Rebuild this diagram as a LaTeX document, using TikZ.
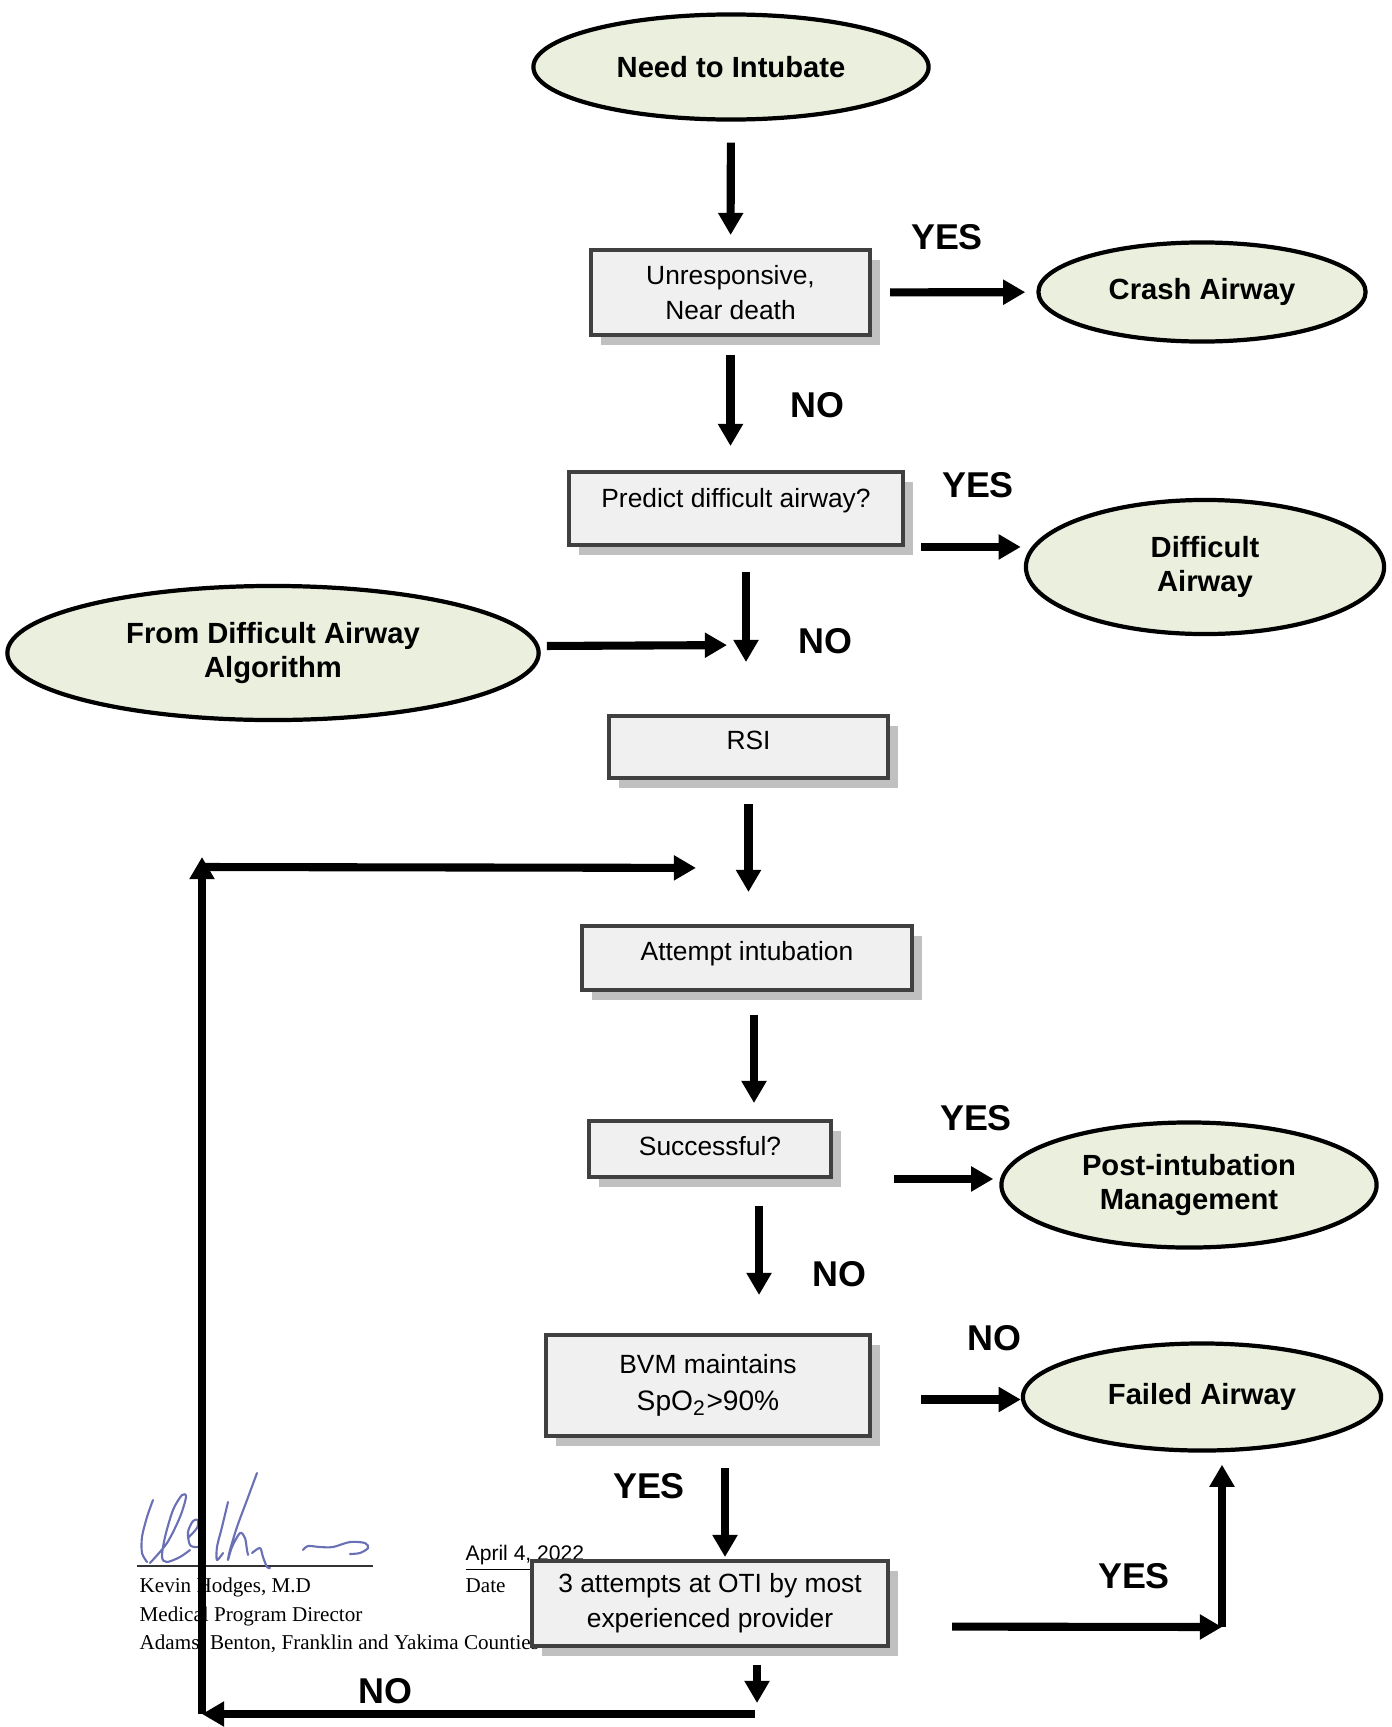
\documentclass[tikz,border=0pt]{standalone}
\usepackage{fontspec}
\setmainfont{Liberation Serif}
\setsansfont{Liberation Sans}
\usetikzlibrary{shapes.geometric,arrows.meta,shadows}

\definecolor{termfill}{HTML}{EBEFDD}
\definecolor{boxfill}{HTML}{F0F0F0}
\definecolor{boxline}{HTML}{404040}
\definecolor{boxshade}{HTML}{C0C0C0}
\definecolor{inkblue}{HTML}{6A70B4}

\begin{document}
\begin{tikzpicture}[x=0.01cm, y=-0.01cm,
    term/.style={ellipse, draw, line width=1.2pt, fill=termfill, inner sep=0pt, align=center,
                 font=\sffamily\bfseries\fontsize{8.3}{9.8}\selectfont},
    procbox/.style={rectangle, draw=boxline, line width=1.1pt, fill=boxfill, inner sep=0pt,
                 font=\sffamily\fontsize{7.5}{10}\selectfont,
                 drop shadow={shadow xshift=0.1cm, shadow yshift=-0.1cm, fill=boxshade, opacity=1}},
    arr/.style={-{Triangle[width=6.8pt,length=6.3pt]}, line width=2.3pt},
    answer/.style={font=\sffamily\bfseries\fontsize{10.2}{12}\selectfont, inner sep=0pt},
    sigtext/.style={font=\fontsize{6}{8}\selectfont, inner sep=0pt, anchor=base west}]
  \useasboundingbox (0,0) rectangle (1392,1727);

  % signature block
  \node[sigtext] (sig_name) at (139,1592) {Kevin Hodges, M.D};
  \node[sigtext] (sig_role) at (139,1621) {Medical Program Director};
  \node[sigtext] (sig_area) at (139,1649) {Adams, Benton, Franklin and Yakima Counties};
  \node[sigtext] (sig_date) at (465,1592) {Date};
  \node[sigtext, font=\sffamily\fontsize{6}{8}\selectfont] (sig_day) at (465,1560) {\underline{April 4, 2022}};
  \draw[line width=0.5pt, black!80] (137,1566) -- (373,1566);
  \begin{scope}[inkblue, line width=0.6pt, line cap=round, line join=round]
    \draw plot[smooth] coordinates {(153,1500) (147,1517) (142,1537) (142,1553) (147,1562)};
    \draw plot[smooth] coordinates {(150,1563) (167,1543) (180,1517) (186,1497) (182,1495)
                                    (173,1510) (165,1537) (162,1557) (167,1562) (180,1557) (190,1550)};
    \draw plot[smooth] coordinates {(188,1538) (197,1528) (198,1520) (193,1521) (188,1532)
                                    (190,1545) (198,1547) (205,1543)};
    \draw plot[smooth] coordinates {(228,1502) (222,1527) (217,1547) (217,1560) (223,1553)};
    \draw plot[smooth] coordinates {(257,1473) (247,1500) (237,1527) (230,1550) (228,1560)
                                    (232,1547) (240,1533) (245,1538) (247,1550) (248,1555)};
    \draw plot[smooth] coordinates {(252,1553) (260,1548) (263,1557) (267,1567) (270,1568)};
    \draw plot[smooth] coordinates {(303,1550) (308,1546) (320,1547) (333,1547) (350,1542)
                                    (365,1543) (368,1548) (360,1553) (350,1554)};
  \end{scope}

  % main column
  \node[term]    (intubate) at (731,67)     [minimum width=3.95cm, minimum height=1.05cm] {Need to Intubate};
  \node[procbox] (unresp)   at (730.5,292.5) [minimum width=2.79cm, minimum height=0.85cm, align=center] {Unresponsive,\\Near death};
  \node[procbox] (predict)  at (736,508.5)  [minimum width=3.34cm, text height=0.35cm, text depth=0.38cm] {Predict difficult airway?};
  \node[procbox] (rsi)      at (748.5,747)  [minimum width=2.79cm, text height=0.33cm, text depth=0.29cm] {RSI};
  \node[procbox] (attempt)  at (747,958)    [minimum width=3.30cm, text height=0.34cm, text depth=0.30cm] {Attempt intubation};
  \node[procbox] (success)  at (710,1149)   [minimum width=2.42cm, text height=0.34cm, text depth=0.22cm] {Successful?};
  \node[procbox] (bvm)      at (708,1385.5) [minimum width=3.24cm, minimum height=1.01cm, align=center] {BVM maintains\\[0.6pt]\fontsize{8}{10}\selectfont SpO\textsubscript{2}>90\%};
  \node[procbox] (tries)    at (710,1603.5) [minimum width=3.56cm, minimum height=0.85cm, align=center] {3 attempts at OTI by most\\experienced provider};

  % outcomes
  \node[term] (crash)   at (1202,292)  [minimum width=3.27cm, minimum height=0.99cm] {Crash Airway};
  \node[term] (diffair) at (1205,567)  [minimum width=3.58cm, minimum height=1.34cm] {Difficult\\Airway};
  \node[term] (fromalg) at (273,653)   [minimum width=5.31cm, minimum height=1.34cm] {From Difficult Airway\\Algorithm};
  \node[term] (postint) at (1189,1185) [minimum width=3.75cm, minimum height=1.25cm] {Post-intubation\\Management};
  \node[term] (failed)  at (1202,1397) [minimum width=3.58cm, minimum height=1.07cm] {Failed Airway};

  \node[answer] (yes_1) at (947,237)   {YES};
  \node[answer] (no_1)  at (817,405)   {NO};
  \node[answer] (yes_2) at (978,485)   {YES};
  \node[answer] (no_2)  at (825,641)   {NO};
  \node[answer] (yes_3) at (976,1118)  {YES};
  \node[answer] (no_3)  at (839,1274)  {NO};
  \node[answer] (no_4)  at (994,1338)  {NO};
  \node[answer] (yes_4) at (649,1486)  {YES};
  \node[answer] (yes_5) at (1134,1576) {YES};
  \node[answer] (no_5)  at (385,1691)  {NO};

  \coordinate (merge)  at (746,645);
  \coordinate (loopin) at (750,868);
  \coordinate (loopbl) at (202,1714);
  \coordinate (looptl) at (202,867);
  \coordinate (corner) at (1222,1627);
  \coordinate (turn)   at (755,1714);

  \path[arr] (intubate) edge[shorten <=0.21cm, shorten >=0.13cm] (unresp)
             (unresp) edge[shorten <=0.18cm, shorten >=0.11cm] (crash)
             (unresp.south) edge[shorten <=0.18cm, shorten >=0.24cm] (unresp.south |- predict.north)
             (predict.south east) edge[shorten <=0.16cm, shorten >=0.03cm] (predict.south east -| diffair.west)
             ([xshift=0.1cm]predict.south) edge[shorten <=0.25cm, shorten >=0.52cm] ([xshift=0.1cm]predict.south |- rsi.north)
             ([yshift=0.07cm]fromalg.east) edge[shorten <=0.06cm, shorten >=0.19cm] (merge)
             (rsi.south) edge[shorten <=0.24cm, shorten >=0.32cm] (rsi.south |- attempt.north)
             ([xshift=0.07cm]attempt.south) edge[shorten <=0.23cm, shorten >=0.16cm] ([xshift=0.07cm]attempt.south |- success.north)
             (success.south east) edge[shorten <=0.61cm, shorten >=0.06cm] (success.south east -| postint.west)
             ([xshift=0.49cm]success.south) edge[shorten <=0.27cm, shorten >=0.38cm] ([xshift=0.49cm]success.south |- bvm.north)
             ([yshift=-0.14cm]bvm.east) edge[shorten <=0.49cm] ([yshift=-0.14cm]bvm.east -| failed.west)
             ([xshift=0.17cm]bvm.south) edge[shorten <=0.30cm, shorten >=0.02cm] ([xshift=0.17cm]bvm.south |- tries.north)
             ([yshift=-0.23cm]tries.east) edge[shorten <=0.62cm] (corner)
             (corner) edge[shorten >=0.12cm] (corner |- failed.south)
             ([xshift=0.47cm]tries.south) edge[shorten <=0.17cm, shorten >=0.11cm] ([xshift=0.47cm]tries.south |- turn)
             (turn) edge (loopbl)
             (loopbl) edge[shorten >=-0.1cm] (looptl)
             (looptl) edge[shorten >=0.54cm] (loopin);
\end{tikzpicture}
\end{document}
